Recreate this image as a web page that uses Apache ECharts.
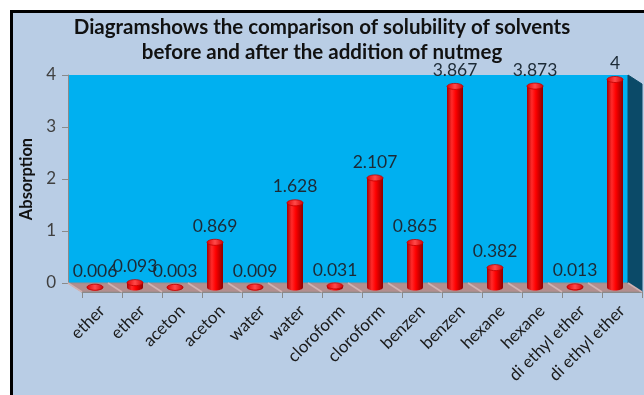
<!DOCTYPE html>
<html>
<head>
<meta charset="utf-8">
<script src="https://cdn.jsdelivr.net/npm/echarts@6/dist/echarts.min.js"></script>
<style>
  html, body { margin: 0; padding: 0; background: #ffffff; }
  #chart { width: 644px; height: 395px; }
</style>
</head>
<body>
<div id="chart"></div>
<script>
// Solvent categories (before / after nutmeg for each solvent)
var categories = ['ether', 'ether', 'aceton', 'aceton', 'water', 'water',
  'cloroform', 'cloroform', 'benzen', 'benzen', 'hexane', 'hexane',
  'di ethyl ether', 'di ethyl ether'];
// Measured absorption for each column
var absorption = [0.006, 0.093, 0.003, 0.869, 0.009, 1.628, 0.031, 2.107,
  0.865, 3.867, 0.382, 3.873, 0.013, 4];
// Value axis ticks
var yTicks = [0, 1, 2, 3, 4];

var FONT = 'Lato, "Open Sans", sans-serif';

// Layout of the pseudo-3D box: back wall, bar plane, front edge
var wall = { left: 68, top: 75, width: 560, height: 208 };
var depth = { dx: 7, dy: 4.5 };   // offset between successive depth planes

var chart = echarts.init(document.getElementById('chart'), null, { renderer: 'canvas' });

function gridAt(k) {
  return {
    left: wall.left + depth.dx * k,
    top: wall.top + depth.dy * k,
    width: wall.width,
    height: wall.height,
    containLabel: false
  };
}

var g0 = gridAt(0), g1 = gridAt(1), g2 = gridAt(2);

// Decorations: chart frame, floor, side wall
var floorBackY = g0.top + g0.height;
var floorFrontY = g2.top + g2.height;
var floorLines = [];
for (var i = 0; i <= categories.length; i++) {
  var step = wall.width / categories.length;
  floorLines.push({
    type: 'line',
    shape: { x1: g0.left + step * i, y1: floorBackY, x2: g2.left + step * i, y2: floorFrontY },
    style: { stroke: '#d2b2b2', lineWidth: 1.5 },
    z: 1
  });
}

var graphics = [
  {
    type: 'rect', left: 10, top: 10, z: -10,
    shape: { x: 0, y: 0, width: 700, height: 500 },
    style: { fill: '#b9cde5', stroke: '#000000', lineWidth: 3 }
  },
  {
    type: 'polygon', z: 0,
    shape: { points: [[g0.left, floorBackY], [g0.left + wall.width, floorBackY],
      [g2.left + wall.width, floorFrontY], [g2.left, floorFrontY]] },
    style: { fill: '#b28e8e', stroke: '#9a8a8a', lineWidth: 1 }
  },
  {
    type: 'polygon', z: 0,
    shape: { points: [[g0.left + wall.width, g0.top], [g2.left + wall.width, g2.top],
      [g2.left + wall.width, floorFrontY], [g0.left + wall.width, floorBackY]] },
    style: { fill: '#0b4a68', stroke: '#0b4a68', lineWidth: 1 }
  }
].concat(floorLines);

var seriesData = absorption.map(function (v, i) { return [i, v]; });

var option = {
  backgroundColor: '#ffffff',
  animation: false,
  title: {
    text: 'Diagramshows the comparison of solubility of solvents\nbefore and after the addition of nutmeg',
    left: 'center',
    top: 10,
    textStyle: { fontFamily: FONT, fontSize: 20.5, fontWeight: 'bold', color: '#111111', lineHeight: 25 }
  },
  graphic: graphics,
  grid: [
    Object.assign({ show: true, backgroundColor: '#00b0f0', borderWidth: 0 }, g0),
    g1,
    g2
  ],
  xAxis: [
    { gridIndex: 0, type: 'category', data: categories, show: false },
    { gridIndex: 1, type: 'category', data: categories, show: false },
    {
      gridIndex: 2, type: 'category', data: categories,
      axisLine: { show: true, lineStyle: { color: '#8a8a8a', width: 1 } },
      axisTick: { show: true, interval: 0, length: 6, lineStyle: { color: '#8a8a8a' } },
      axisLabel: {
        interval: 0, rotate: 45, margin: 16,
        fontFamily: FONT, fontSize: 17, color: '#1a1a1a'
      }
    }
  ],
  yAxis: [
    {
      gridIndex: 0, type: 'value', min: yTicks[0], max: yTicks[yTicks.length - 1], interval: 1,
      name: 'Absorption', nameLocation: 'middle', nameGap: 31,
      nameTextStyle: { fontFamily: FONT, fontSize: 16.5, fontWeight: 'bold', color: '#111111' },
      axisLine: { show: true, lineStyle: { color: '#8a8a8a', width: 1 } },
      axisTick: { show: true, length: 6, lineStyle: { color: '#8a8a8a' } },
      axisLabel: { margin: 12, fontFamily: FONT, fontSize: 17, color: '#404040' },
      splitLine: { show: false }
    },
    { gridIndex: 1, type: 'value', min: yTicks[0], max: yTicks[yTicks.length - 1], show: false, splitLine: { show: false } },
    { gridIndex: 2, type: 'value', min: yTicks[0], max: yTicks[yTicks.length - 1], show: false, splitLine: { show: false } }
  ],
  series: [
    {
      type: 'custom',
      xAxisIndex: 1,
      yAxisIndex: 1,
      z: 5,
      encode: { x: 0, y: 1 },
      data: seriesData,
      renderItem: function (params, api) {
        var idx = api.value(0);
        var v = api.value(1);
        var top = api.coord([idx, v]);
        var base = api.coord([idx, 0]);
        var w = api.size([1, 0])[0] * 0.4;
        var rx = w / 2, ry = 3;
        var cx = top[0];
        var bodyFill = new echarts.graphic.LinearGradient(0, 0, 1, 0, [
          { offset: 0, color: '#a80000' },
          { offset: 0.3, color: '#ff2a2a' },
          { offset: 0.55, color: '#ff0000' },
          { offset: 1, color: '#8c0000' }
        ]);
        return {
          type: 'group',
          children: [
            { type: 'ellipse', shape: { cx: cx, cy: base[1], rx: rx, ry: ry }, style: { fill: bodyFill } },
            { type: 'rect', shape: { x: cx - rx, y: top[1], width: w, height: Math.max(0, base[1] - top[1]) }, style: { fill: bodyFill } },
            {
              type: 'ellipse', shape: { cx: cx, cy: top[1], rx: rx, ry: ry },
              style: { fill: new echarts.graphic.LinearGradient(0, 0, 1, 0, [
                { offset: 0, color: '#e00000' },
                { offset: 0.5, color: '#ff4a4a' },
                { offset: 1, color: '#d00000' }
              ]), stroke: '#c00000', lineWidth: 0.8 }
            },
            {
              type: 'text', z2: 10,
              style: {
                text: String(v), x: cx, y: top[1] - 7,
                align: 'center', verticalAlign: 'bottom',
                fontFamily: FONT, fontSize: 17.5, fill: '#1c2a36'
              }
            }
          ]
        };
      }
    }
  ]
};

chart.setOption(option);
</script>
</body>
</html>
